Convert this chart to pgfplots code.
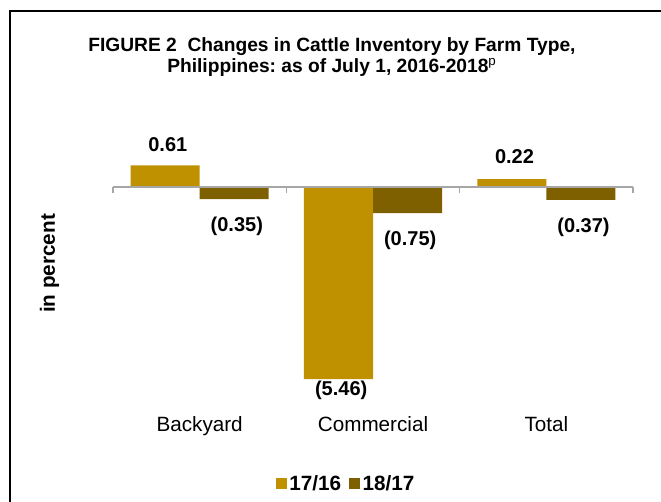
\documentclass[border=0pt]{standalone}
\usepackage{fontspec}
\setmainfont{Liberation Sans}
\usepackage{pgfplots}
\pgfplotsset{compat=1.18}

\definecolor{gold1}{HTML}{BF9000}
\definecolor{gold2}{HTML}{7F6000}
\definecolor{axisgray}{HTML}{A6A6A6}

\frenchspacing
\begin{document}
\begin{tikzpicture}
% page = 661 x 501 px at 0.75 pt/px
\useasboundingbox (0,0) rectangle (495.75pt,375.75pt);
\draw[black, line width=1.5pt] (7.125pt,-2pt) -- (7.125pt,367.125pt) -- (500pt,367.125pt);

\begin{axis}[
    at={(84.75pt,82.5pt)}, anchor=south west,
    scale only axis,
    width=390pt, height=184.8pt,
    xmin=-0.5, xmax=2.5,
    ymin=-5.8, ymax=1.2,
    axis line style={draw=none},
    ytick=\empty,
    xtick={0,1,2},
    xticklabels={Backyard, Commercial, Total},
    major tick length=0pt,
    xticklabel style={font=\fontsize{15.5}{18}\selectfont, anchor=base, yshift=-30.5pt},
    clip=false,
    ybar=0pt,
    bar width=51.75pt,
    title={\textbf{FIGURE 2\ \ Changes in Cattle Inventory by Farm Type,}\\\textbf{Philippines: as of July 1, 2016-2018}\textsuperscript{p}},
    title style={at={(axis description cs:0.421,1.323)}, anchor=center, align=center,
        font=\fontsize{14.4}{16.2}\selectfont},
    ylabel={in percent},
    ylabel style={at={(axis description cs:-0.122,0.518)}, anchor=center,
        font=\fontsize{15.5}{18}\selectfont\bfseries},
    nodes near coords,
    point meta=explicit symbolic,
    every node near coord/.append style={font=\fontsize{15}{18}\selectfont\bfseries, anchor=center, xshift=2pt},
    legend style={at={(axis description cs:0.449,-0.3755)}, anchor=center, draw=none,
        legend columns=2, font=\fontsize{15.5}{18}\selectfont\bfseries,
        /tikz/every even column/.append style={column sep=4pt}},
    legend image code/.code={\fill[#1] (0pt,-4.1pt) rectangle (8.2pt,4.1pt);},
]
\addplot[fill=gold1, draw=none,
    coordinate style/.condition={\coordindex==0}{yshift=15.75pt},
    coordinate style/.condition={\coordindex==1}{yshift=-8.5pt},
    coordinate style/.condition={\coordindex==2}{yshift=16.5pt},
] coordinates {(0,0.61) [0.61] (1,-5.46) [(5.46)] (2,0.22) [0.22]};
\addplot[fill=gold2, draw=none,
    every node near coord/.append style={yshift=-20.5pt},
] coordinates {(0,-0.35) [(0.35)] (1,-0.75) [(0.75)] (2,-0.37) [(0.37)]};
\legend{17/16, 18/17}

% zero line with category separators
\draw[axisgray, line width=1.1pt] (axis cs:-0.5,0) -- (axis cs:2.5,0);
\draw[axisgray, line width=1.1pt] (axis cs:-0.5,0) -- ([yshift=-4.5pt]axis cs:-0.5,0);
\draw[axisgray, line width=1.1pt] (axis cs:0.5,0) -- ([yshift=-4.5pt]axis cs:0.5,0);
\draw[axisgray, line width=1.1pt] (axis cs:1.5,0) -- ([yshift=-4.5pt]axis cs:1.5,0);
\draw[axisgray, line width=1.1pt] (axis cs:2.5,0) -- ([yshift=-4.5pt]axis cs:2.5,0);
\end{axis}
\end{tikzpicture}
\end{document}
